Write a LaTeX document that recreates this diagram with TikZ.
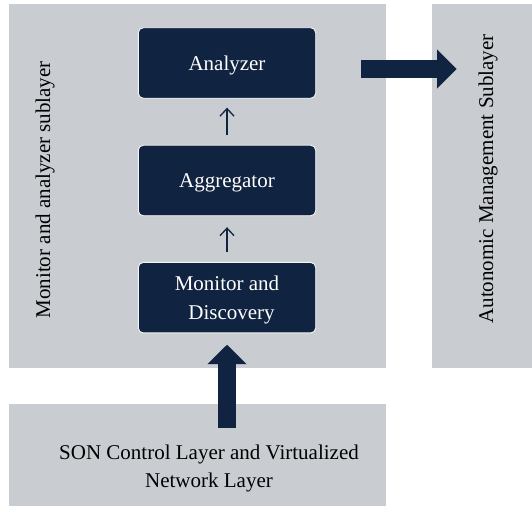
\documentclass[tikz,border=0pt]{standalone}
\usepackage{fontspec}
\setmainfont{Liberation Serif}
\usetikzlibrary{arrows.meta}
\definecolor{panelgray}{RGB}{201,204,209}
\definecolor{navy}{RGB}{16,35,64}

\begin{document}
\begin{tikzpicture}[x=1pt, y=1pt]

\tikzstyle{every node} = [font=\fontsize{21}{28.3}\selectfont]
\tikzstyle{panel} = [rectangle, fill=panelgray, inner sep=0pt]
\tikzstyle{block} = [rectangle, rounded corners=5pt, fill=navy, draw=white!92!gray, line width=0.9pt, text=white, minimum width=177.4pt, minimum height=70.5pt, inner sep=0pt, align=center, text depth=0pt]
\tikzstyle{flow} = [-{Straight Barb[length=7.5pt,width=14pt]}, navy, line width=1.3pt]
\tikzstyle{bulk} = [-{Triangle[length=19.5pt,width=38pt]}, navy, line width=18.8pt]

\useasboundingbox (0,0) rectangle (532,506);

\node[panel, minimum width=376.3pt, minimum height=364.3pt] (m) at (197.35,319.85) {};
\node[panel, minimum width=100pt, minimum height=364.3pt] (r) at (482,319.85) {};
\node[panel, minimum width=376.3pt, minimum height=102pt] (s) at (197.35,51) {};

\node[rotate=90] (ml) at (45,316.2) {Monitor and analyzer sublayer};
\node[rotate=90] (rl) at (488,327) {Autonomic Management Sublayer};
\node[align=center] (sl) at (209,37.3) {SON Control Layer and Virtualized\\Network Layer};

\node[block] (a) at (227,443) {Analyzer};
\node[block] (g) at (227,325.5) {Aggregator};
\node[block] (d) at (227,208.3) {Monitor and\\\hspace*{9pt}Discovery};

\draw[flow, shorten <=9.6pt, shorten >=9pt] (g) -- (a);
\draw[flow, shorten <=9.7pt, shorten >=11pt] (d) -- (g);
\draw[bulk] ([shift={(45pt,-6pt)}]a.east) -- ([shift={(24.8pt,0pt)}]r.west |- 0,437);
\draw[bulk] ([yshift=-23.7pt]d.south |- s.north) -- ([yshift=-11.3pt]d.south);
\end{tikzpicture}
\end{document}
